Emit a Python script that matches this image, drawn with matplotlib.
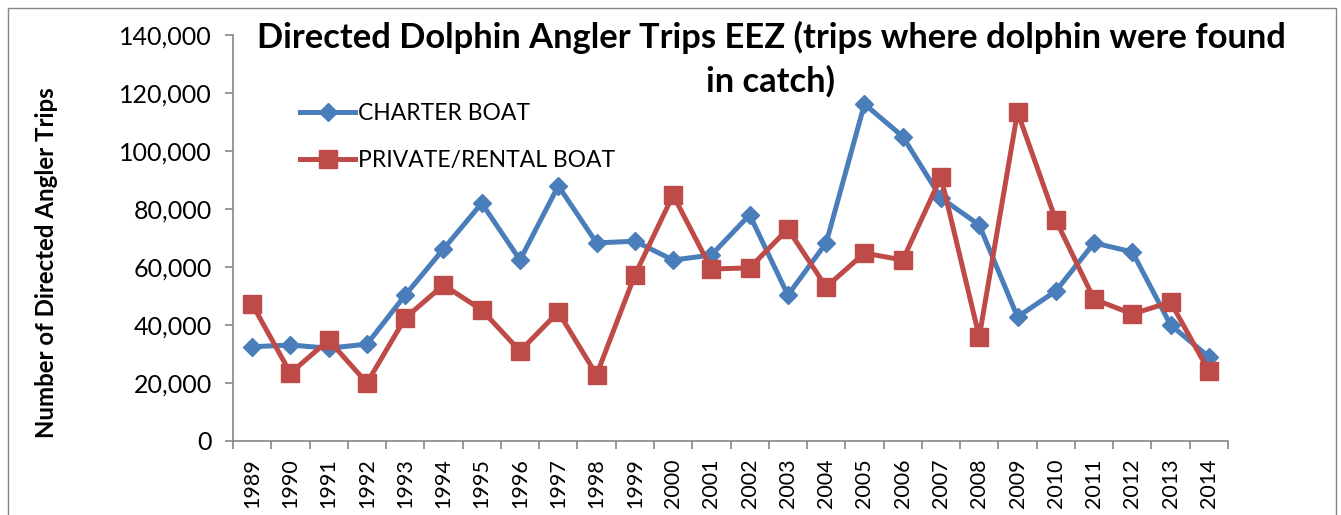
import matplotlib
matplotlib.use("Agg")
import matplotlib.pyplot as plt
from matplotlib.patches import Rectangle
from matplotlib.ticker import FuncFormatter, MultipleLocator

# === DATA ===
years = list(range(1989, 2015))
charter = [32500, 33100, 32000, 33400, 50300, 66200, 82000, 62400, 88000, 68300,
           68900, 62400, 64100, 78000, 50300, 68300, 116200, 105000, 83800, 74500,
           42800, 51700, 68300, 65200, 40000, 29000]
private = [47200, 23400, 34800, 20000, 42400, 53800, 45200, 31000, 44500, 22800,
           57200, 84800, 59300, 59700, 73100, 53100, 64800, 62400, 91000, 35900,
           113400, 76200, 48900, 43800, 47900, 24100]

# === STYLE ===
plt.rcParams["font.family"] = ["Lato", "DejaVu Sans"]
blue = "#4A7EBB"
red = "#BE4B48"
grey = "#868686"

fig = plt.figure(figsize=(13.41, 5.15), dpi=100)
ax = fig.add_axes([233 / 1341, 74 / 515, 995 / 1341, 406 / 515])

x = list(range(len(years)))
ax.plot(x, charter, color=blue, lw=3.6, marker="D", ms=9.5, label="CHARTER BOAT")
ax.plot(x, private, color=red, lw=3.6, marker="s", ms=13.5, label="PRIVATE/RENTAL BOAT")

ax.set_xlim(-0.5, len(years) - 0.5)
ax.set_ylim(0, 140000)
ax.yaxis.set_major_locator(MultipleLocator(20000))
ax.yaxis.set_major_formatter(FuncFormatter(lambda v, p: f"{int(v):,}"))

ax.set_xticks(x)
ax.set_xticklabels([str(y) for y in years], rotation=90)
ax.set_xticks([i - 0.5 for i in range(len(years) + 1)], minor=True)
ax.tick_params(axis="x", which="major", length=0, pad=12.5, labelsize=15.5)
ax.tick_params(axis="x", which="minor", length=6, color=grey, width=1.2)
ax.tick_params(axis="y", length=6, color=grey, width=1.2, labelsize=18, pad=9)

for s in ["top", "right"]:
    ax.spines[s].set_visible(False)
for s in ["left", "bottom"]:
    ax.spines[s].set_color(grey)
    ax.spines[s].set_linewidth(1.2)

ax.legend(loc="upper left", bbox_to_anchor=(300 / 1341, 0.80), bbox_transform=fig.transFigure,
          frameon=False, fontsize=16.5, handlelength=2.4, handletextpad=0.15,
          labelspacing=1.15, borderpad=0, borderaxespad=0)

# title (two lines, as in the original)
fig.text(771 / 1341, 0.9068, "Directed Dolphin Angler Trips EEZ (trips where dolphin were found",
         ha="center", va="baseline", fontsize=24.8, fontweight="bold")
fig.text(771 / 1341, 0.8214, "in catch)", ha="center", va="baseline", fontsize=24.8, fontweight="bold")

fig.text(47 / 1341, 0.491, "Number of Directed Angler Trips", rotation=90,
         ha="center", va="center", fontsize=17.3, fontweight="bold")

# chart frame
fig.patches.append(Rectangle((8 / 1341, -0.1), 1328 / 1341, 1.1 - 8 / 515, transform=fig.transFigure,
                             fill=False, edgecolor=grey, lw=1.0))

plt.savefig("out.png", dpi=100)
